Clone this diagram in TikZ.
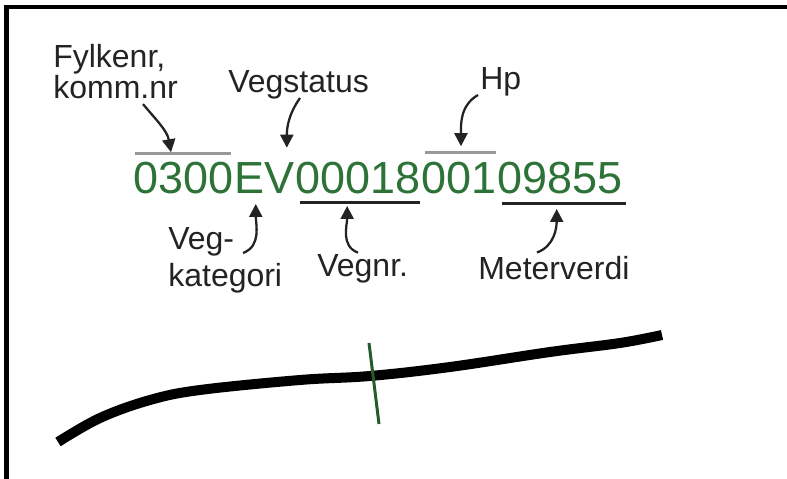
\documentclass[tikz,border=0pt]{standalone}
\usepackage{fontspec}
\setmainfont{Liberation Sans}
\usetikzlibrary{arrows.meta,calc}
\definecolor{codegreen}{RGB}{45,115,55}
\definecolor{inkgray}{RGB}{35,35,35}

\begin{document}
\begin{tikzpicture}[x=0.02cm, y=0.02cm,
    code/.style={inner sep=0, text=codegreen, font=\fontsize{25.6}{30}\selectfont, anchor=base west},
    lbl/.style={inner sep=0, text=inkgray, font=\fontsize{18.2}{20}\selectfont, align=left},
    ptr/.style={draw=inkgray, line width=1.3pt, -{Triangle[length=0.26cm,width=0.26cm]}},
    overbar/.style={draw=gray!80, line width=1.7pt},
    underbar/.style={draw=inkgray, line width=1.7pt}]
    \useasboundingbox (0,0) rectangle (787,479);

    % Frame
    \draw[line width=0.09cm] (6.5,0) -- (6.5,472) -- (787,472);

    % Draw nodes
    \node[code] (fylke) at (133,285) {0300};
    \node[code] (kat) at (fylke.base east) {E};
    \node[code] (status) at (kat.base east) {V};
    \node[code] (vegnr) at (status.base east) {00018};
    \node[code] (hp) at (vegnr.base east) {001};
    \node[code] (meter) at (hp.base east) {09855};

    % Labels
    \node[lbl, anchor=north west, font=\fontsize{18.2}{17.6}\selectfont] (fylkelbl) at (53,435) {Fylkenr,\\komm.nr};
    \node[lbl, anchor=base west] (statuslbl) at (228,386) {Vegstatus};
    \node[lbl, anchor=base west] (hplbl) at (480,389) {Hp};
    \node[lbl, anchor=north west, font=\fontsize{18.2}{21}\selectfont] (katlbl) at (168,252) {Veg-\\kategori};
    \node[lbl, anchor=base west] (vegnrlbl) at (317,202) {Vegnr.};
    \node[lbl, anchor=base west] (meterlbl) at (478,199) {Meterverdi};

    % Bars over and under the code
    \draw[overbar] ($(fylke.north west)+(2,9)$) -- ($(fylke.north east)+(-3,9)$);
    \draw[overbar] ($(hp.north west)+(4,10)$) -- ($(hp.north east)+(-1,10)$);
    \draw[underbar] ($(vegnr.base west)+(5,-9)$) -- ($(vegnr.base east)+(-1,-9)$);
    \draw[underbar] ($(meter.base west)+(5,-10)$) -- ($(meter.base east)+(4,-10)$);

    % Draw connections
    \draw[ptr] ($(fylkelbl.south west)+(90,-5)$) to[out=-50, in=100] ($(fylke.north west)+(38,10)$);
    \draw[ptr] ($(statuslbl.south west)+(72,2)$) to[out=-125, in=90] ($(status.north)+(7,15)$);
    \draw[ptr] ($(hplbl.south west)+(-2,2)$) to[out=-150, in=90] ($(hp.north west)+(40,16)$);
    \draw[ptr] ($(katlbl.north west)+(75,-26)$) to[out=20, in=-90] ($(kat.base west)+(22,-10)$);
    \draw[ptr] ($(vegnrlbl.north west)+(41,2)$) to[out=160, in=-90] ($(vegnr.base west)+(52,-12)$);
    \draw[ptr] ($(meterlbl.north west)+(59,4)$) to[out=20, in=-90] ($(meter.base west)+(60,-15)$);

    % Road with the measuring point
    \draw[line width=0.2cm] plot[smooth, tension=0.6] coordinates
        {(58,37) (100,61) (150,79) (200,89) (300,99) (370,103) (450,112) (550,127) (620,136) (662,144)};
    \draw[codegreen!80!black, line width=0.06cm] (369,136) -- (379,55);
\end{tikzpicture}
\end{document}
